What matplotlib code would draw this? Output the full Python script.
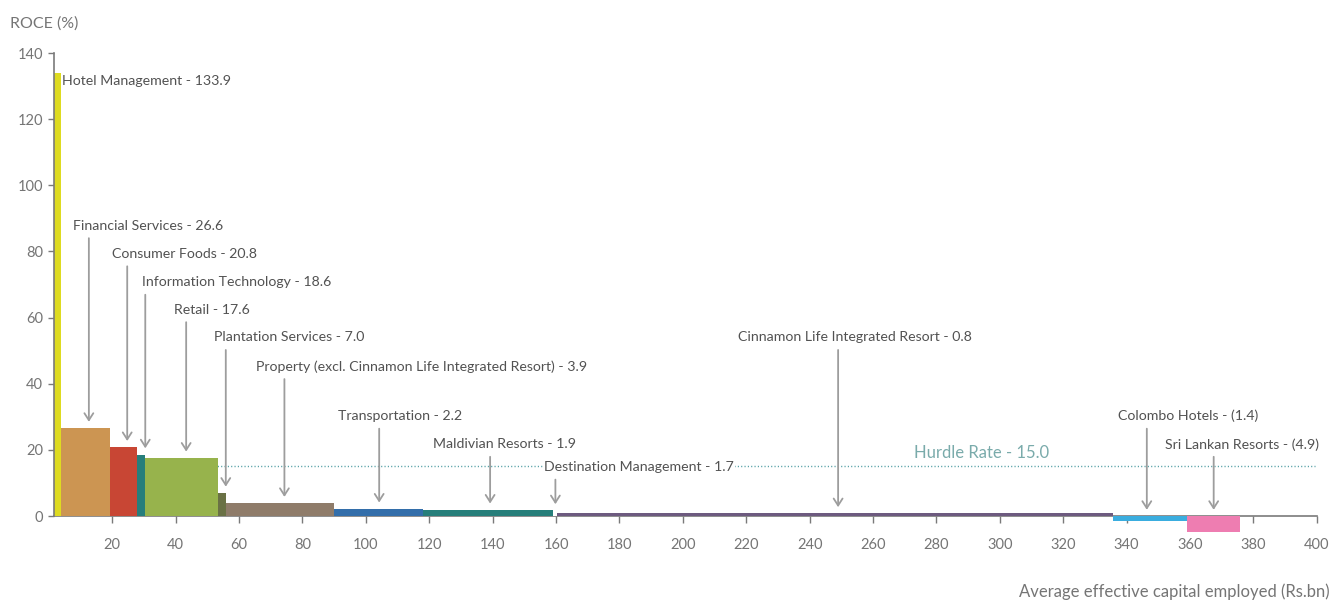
import matplotlib
matplotlib.use("Agg")
import matplotlib.pyplot as plt
import numpy as np

# ---- data -------------------------------------------------------------
segments = [
    "Hotel Management",
    "Financial Services",
    "Consumer Foods",
    "Information Technology",
    "Retail",
    "Plantation Services",
    "Property (excl. Cinnamon Life Integrated Resort)",
    "Transportation",
    "Maldivian Resorts",
    "Destination Management",
    "Cinnamon Life Integrated Resort",
    "Colombo Hotels",
    "Sri Lankan Resorts",
]
roce = [133.9, 26.6, 20.8, 18.6, 17.6, 7.0, 3.9, 2.2, 1.9, 1.7, 0.8, -1.4, -4.9]
capital = [2.2, 15.4, 8.6, 2.5, 23.0, 2.5, 34.3, 27.8, 41.0, 1.3, 175.5, 23.4, 16.7]
hurdle_rate = 15.0
x_ticks = list(range(20, 401, 20))
y_ticks = list(range(0, 141, 20))

# ---- styling / layout ---------------------------------------------------
colors = ["#dedb20", "#cc9552", "#c84634", "#267e7b", "#97b34c", "#6a7145",
          "#8f7c6a", "#336eaa", "#267e7a", "#ffffff", "#6d5a7f", "#3aaddf",
          "#ee7db1"]
x_origin = 1.6
# label anchor (left x, centre y) and arrow x for each segment
label_x = [4.1, 7.7, 19.8, 29.5, 39.6, 52.1, 65.3, 91.2, 121.2, 156.2, 217.4, 337.2, 352.1]
label_y = [131.5, 87.8, 79.3, 70.7, 62.4, 54.0, 45.2, 30.2, 21.7, 14.8, 54.0, 30.2, 21.7]
arrow_x = [None, 12.6, 24.7, 30.4, 43.3, 55.8, 74.3, 104.2, 139.2, 159.8, 249.0, 346.4, 367.5]

text_col = "#525252"
tick_col = "#757575"
axis_col = "#7a7a7a"
arrow_col = "#9d9d9d"

plt.rcParams["font.family"] = ["Lato", "DejaVu Sans"]

fig = plt.figure(figsize=(13.31, 6.0), dpi=100)
ax = fig.add_axes([0.04057, 0.0958, 0.94868, 0.8158])

lefts = x_origin + np.concatenate([[0.0], np.cumsum(capital)[:-1]])
ax.bar(lefts, roce, width=capital, align="edge", color=colors,
       linewidth=0, zorder=2)

ax.set_xlim(x_origin, 400)
ax.set_ylim(-8, 140)

for s in ("top", "right"):
    ax.spines[s].set_visible(False)
ax.spines["left"].set_bounds(0, 140)
ax.spines["bottom"].set_position(("data", 0))
ax.spines["left"].set_color(axis_col)
ax.spines["bottom"].set_color(axis_col)
ax.spines["left"].set_linewidth(1.2)
ax.spines["bottom"].set_linewidth(1.2)
ax.spines["bottom"].set_zorder(1)

ax.set_xticks(x_ticks)
ax.set_yticks(y_ticks)
ax.tick_params(axis="x", direction="out", length=5, width=1, color=axis_col,
               pad=11, labelsize=10.5, labelcolor=tick_col)
ax.tick_params(axis="y", direction="out", length=4.3, width=1, color=axis_col,
               pad=3.5, labelsize=10.5, labelcolor=tick_col)

# hurdle rate
ax.plot([x_origin, 399.5], [hurdle_rate, hurdle_rate], color="#4f9da2",
        lw=1.0, ls=(0, (0.8, 1.6)), zorder=1)
ax.annotate(f"Hurdle Rate - {hurdle_rate:.1f}", xy=(294.4, hurdle_rate),
            xytext=(0, 4), textcoords="offset points", ha="center",
            va="bottom", fontsize=12, color="#7aabab")


def fmt(v):
    return f"({abs(v):.1f})" if v < 0 else f"{v:.1f}"


for i, name in enumerate(segments):
    ax.text(label_x[i], label_y[i], f"{name} - {fmt(roce[i])}", ha="left",
            va="center", fontsize=10.2, color=text_col, zorder=4,
            bbox=dict(facecolor="white", edgecolor="none", pad=0.5))
    if arrow_x[i] is None:
        continue
    ax.annotate("", xy=(arrow_x[i], max(roce[i], 0)),
                xytext=(arrow_x[i], label_y[i]),
                arrowprops=dict(arrowstyle="->,head_length=0.5,head_width=0.32",
                                color=arrow_col, lw=1.3, shrinkA=9, shrinkB=4.5,
                                mutation_scale=10),
                zorder=3)

fig.text(10 / 1331, 1 - 24 / 600, "ROCE (%)", ha="left", va="center",
         fontsize=11.5, color=tick_col)
fig.text(1330 / 1331, 1 - 592 / 600, "Average effective capital employed (Rs.bn)",
         ha="right", va="center", fontsize=12, color=tick_col)

fig.savefig("out.png", dpi=100)
